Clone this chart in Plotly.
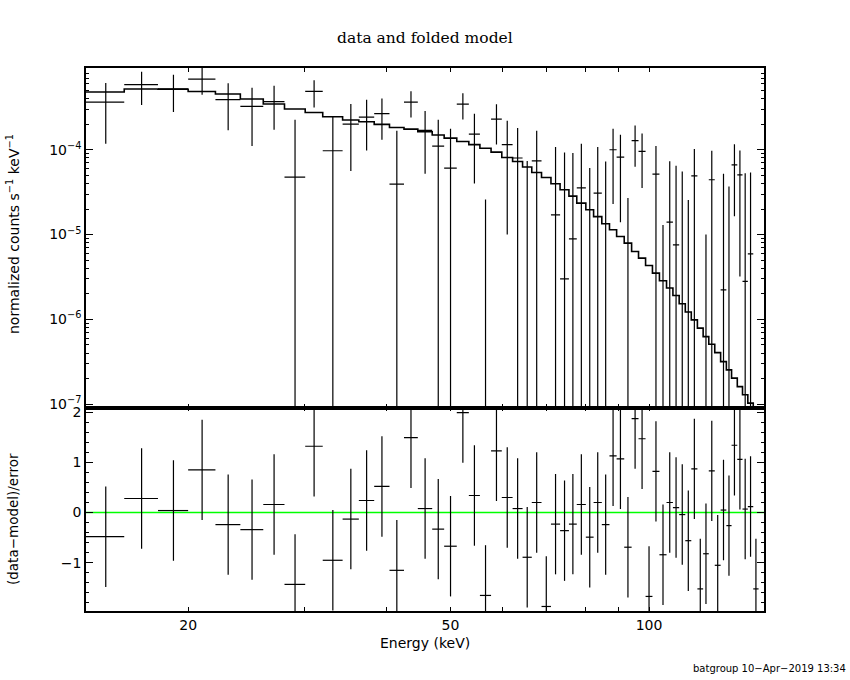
import plotly.graph_objects as go

# energy bin edges (keV), 58 bins
e_edges = [14.0, 16.0, 18.0, 20.0, 22.0, 24.0, 26.0, 28.0, 30.1, 32.0,
           34.3, 36.3, 38.3, 40.4, 42.5, 44.6, 46.9, 48.9, 51.1, 53.3,
           55.4, 57.6, 59.8, 62.1, 64.3, 66.4, 68.7, 71.0, 73.3, 75.6,
           77.7, 80.2, 82.4, 84.8, 87.1, 89.3, 91.7, 94.1, 96.4, 98.8,
           101.2, 103.7, 106.3, 108.7, 111.1, 113.5, 115.9, 118.4, 120.8, 123.2,
           125.8, 128.4, 131.0, 133.4, 136.1, 138.6, 141.2, 143.9, 146.6]

# folded model, counts/s/keV
model = [4.80e-4, 5.20e-4, 5.17e-4, 4.87e-4, 4.54e-4, 3.96e-4, 3.46e-4, 3.02e-4, 2.75e-4, 2.45e-4,
         2.24e-4, 2.14e-4, 1.99e-4, 1.83e-4, 1.75e-4, 1.63e-4, 1.49e-4, 1.37e-4, 1.25e-4, 1.15e-4,
         1.04e-4, 9.39e-5, 8.11e-5, 7.28e-5, 6.25e-5, 5.40e-5, 4.71e-5, 3.97e-5, 3.37e-5, 2.84e-5,
         2.35e-5, 1.96e-5, 1.63e-5, 1.34e-5, 1.14e-5, 9.49e-6, 7.93e-6, 6.32e-6, 5.28e-6, 4.32e-6,
         3.51e-6, 2.85e-6, 2.34e-6, 1.91e-6, 1.53e-6, 1.22e-6, 9.88e-7, 7.88e-7, 6.27e-7, 5.10e-7,
         4.06e-7, 3.18e-7, 2.54e-7, 2.03e-7, 1.61e-7, 1.29e-7, 1.03e-7, 8.1e-8]

# data and 1-sigma errors
data = [3.65e-4, 5.85e-4, 5.23e-4, 6.82e-4, 3.90e-4, 3.24e-4, 3.70e-4, 4.77e-5, 4.88e-4, 9.73e-5,
        2.01e-4, 2.43e-4, 2.66e-4, 3.94e-5, 3.65e-4, 1.69e-4, 1.105e-4, 6.08e-5, 3.46e-4, 1.53e-4,
        -9.4e-5, 2.30e-4, 1.15e-4, 8.0e-5, -2.65e-5, 7.41e-5, -1.31e-4, 1.71e-5, 3.0e-6, 8.9e-6,
        3.56e-5, -2.0e-5, 3.08e-5, -5.2e-6, 1.0e-4, 8.2e-5, -3.4e-5, 1.28e-4, 9.55e-5, -9.6e-5,
        5.16e-5, -4.9e-5, 1.40e-5, 7.57e-6, -7e-7, -2.9e-5, 4.93e-5, -8.0e-5, -4.2e-5, 4.43e-5,
        -5.3e-5, 2.23e-6, -1.3e-5, 6.65e-5, 5.07e-5, 2.8e-6, 5.93e-6, -7.3e-5]
err = [2.47e-4, 2.47e-4, 2.44e-4, 2.36e-4, 2.20e-4, 2.13e-4, 1.98e-4, 1.78e-4, 1.73e-4, 1.50e-4,
       1.45e-4, 1.45e-4, 1.35e-4, 1.28e-4, 1.25e-4, 1.17e-4, 1.16e-4, 1.16e-4, 1.18e-4, 1.13e-4,
       1.20e-4, 1.15e-4, 1.05e-4, 1.0e-4, 1.0e-4, 9.4e-5, 9.5e-5, 9.1e-5, 9.0e-5, 8.25e-5,
       8.2e-5, 8.1e-5, 7.7e-5, 7.8e-5, 7.7e-5, 6.8e-5, 6.1e-5, 6.5e-5, 6.0e-5, 6.0e-5,
       5.9e-5, 6.2e-5, 5.9e-5, 5.7e-5, 5.6e-5, 5.45e-5, 5.3e-5, 5.3e-5, 5.2e-5, 5.3e-5,
       5.1e-5, 5.0e-5, 5.0e-5, 5.0e-5, 4.75e-5, 5.0e-5, 4.8e-5, 4.8e-5]

# (data-model)/error
resid = [-0.48, 0.28, 0.04, 0.85, -0.24, -0.34, 0.16, -1.43, 1.32, -0.95,
         -0.13, 0.24, 0.52, -1.15, 1.49, 0.08, -0.33, -0.67, 1.99, 0.34,
         -1.65, 1.23, 0.30, 0.08, -0.89, 0.20, -1.87, -0.23, -0.36, -0.23,
         0.16, -0.49, 0.20, -0.24, 1.13, 1.07, -0.69, 1.87, 1.47, -1.67,
         0.82, -0.84, 0.20, 0.10, -0.04, -0.56, 0.87, -1.52, -0.82, 0.83,
         -1.05, 0.05, -0.26, 1.34, 1.06, 0.07, 0.12, -1.52]

x_ticks = [20, 50, 100]
x_minor = [30, 40, 60, 70, 80, 90]
y_ticks = [1e-7, 1e-6, 1e-5, 1e-4]
y_ticktext = ["10<sup>−7</sup>", "10<sup>−6</sup>", "10<sup>−5</sup>", "10<sup>−4</sup>"]
y_minor = [k * 10.0 ** p for p in (-8, -7, -6, -5, -4) for k in range(2, 10)]
r_ticks = [-1, 0, 1, 2]
r_ticktext = ["−1", "0", "1", "2"]
r_minor = [v / 5 for v in range(-10, 11)]

lo = e_edges[:-1]
hi = e_edges[1:]
mid = [(a + b) / 2 for a, b in zip(lo, hi)]

# crosses for the top panel (log y, so clip negative ends)
FLOOR = 1e-10
tx, ty = [], []
for a, b, c, d, s in zip(lo, hi, mid, data, err):
    if d > 0:
        tx += [a, b, None]
        ty += [d, d, None]
    if d + s > 0:
        tx += [c, c, None]
        ty += [max(d - s, FLOOR), d + s, None]

# crosses for the residual panel
bx, by = [], []
for a, b, c, r in zip(lo, hi, mid, resid):
    bx += [a, b, None, c, c, None]
    by += [r, r, None, r - 1, r + 1, None]

fig = go.Figure()
fig.add_trace(go.Scatter(x=tx, y=ty, mode="lines", line=dict(color="black", width=1.2),
                         xaxis="x2", yaxis="y2", hoverinfo="skip"))
fig.add_trace(go.Scatter(x=e_edges, y=model + [model[-1]], mode="lines", line_shape="hv",
                         line=dict(color="black", width=1.6), xaxis="x2", yaxis="y2"))
fig.add_trace(go.Scatter(x=[e_edges[0] * 0.9, e_edges[-1] * 1.1], y=[0, 0], mode="lines",
                         line=dict(color="#00ff00", width=1.5), xaxis="x", yaxis="y"))
fig.add_trace(go.Scatter(x=bx, y=by, mode="lines", line=dict(color="black", width=1.2),
                         xaxis="x", yaxis="y", hoverinfo="skip"))

axis_common = dict(showline=True, linecolor="black", linewidth=1.5, mirror="allticks",
                   ticks="inside", tickcolor="black", showgrid=False, zeroline=False,
                   tickfont=dict(family="DejaVu Sans", size=14, color="black"))
xr = [1.14613, 2.17436]

fig.update_layout(
    width=850, height=680,
    margin=dict(l=86, r=86, t=68, b=69),
    paper_bgcolor="white", plot_bgcolor="white",
    showlegend=False,
    xaxis=dict(type="log", range=xr, domain=[0, 1], anchor="y",
               tickvals=x_ticks, ticktext=[str(v) for v in x_ticks], ticklen=4,
               minor=dict(tickvals=x_minor, ticks="inside", ticklen=4, tickcolor="black"),
               **axis_common),
    yaxis=dict(range=[-1.96, 2.09], domain=[0, 0.3746], anchor="x",
               tickvals=r_ticks, ticktext=r_ticktext, ticklen=7,
               minor=dict(tickvals=r_minor, ticks="inside", ticklen=3, tickcolor="black"),
               **axis_common),
    xaxis2=dict(type="log", range=xr, domain=[0, 1], anchor="y2", matches="x",
                tickvals=x_ticks, showticklabels=False, ticklen=4,
                minor=dict(tickvals=x_minor, ticks="inside", ticklen=4, tickcolor="black"),
                **axis_common),
    yaxis2=dict(type="log", range=[-7.04, -3.036], domain=[0.3746, 1], anchor="x2",
                tickvals=y_ticks, ticktext=y_ticktext, ticklen=7,
                minor=dict(tickvals=y_minor, ticks="inside", ticklen=3, tickcolor="black"),
                **axis_common),
)

def px_x(p):
    return (p - 86) / 678.0

def px_y(p):
    return (611 - p) / 543.0

notes = [
    dict(text="data and folded model", x=px_x(425), y=px_y(38), textangle=0,
         font=dict(family="DejaVu Serif", size=15.5, color="black"), xanchor="center"),
    dict(text="normalized counts s<sup>−1</sup> keV<sup>−1</sup>", x=px_x(13), y=px_y(234),
         textangle=-90, font=dict(family="DejaVu Sans", size=14, color="black"), xanchor="center"),
    dict(text="(data−model)/error", x=px_x(13), y=px_y(519), textangle=-90,
         font=dict(family="DejaVu Sans", size=13.5, color="black"), xanchor="center"),
    dict(text="Energy (keV)", x=px_x(425), y=px_y(643), textangle=0,
         font=dict(family="DejaVu Sans", size=14, color="black"), xanchor="center"),
    dict(text="batgroup 10−Apr−2019 13:34", x=px_x(848), y=px_y(668), textangle=0,
         font=dict(family="DejaVu Sans", size=10, color="black"), xanchor="right"),
]
for n in notes:
    fig.add_annotation(xref="paper", yref="paper", showarrow=False, yanchor="middle", **n)

fig.write_html("out.html", config={"displayModeBar": False},
               post_script="document.body.style.margin='0px';")
